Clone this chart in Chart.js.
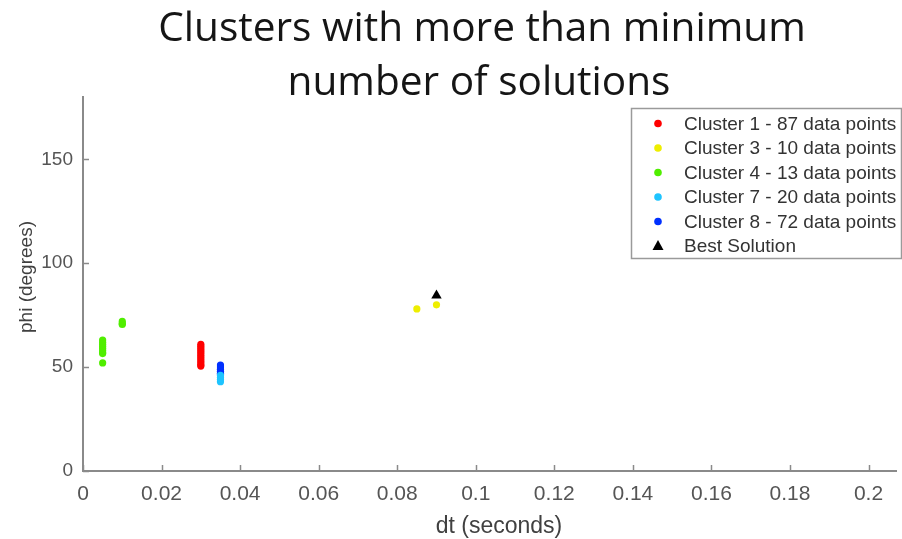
<!DOCTYPE html>
<html>
<head>
<meta charset="utf-8">
<script src="https://cdn.jsdelivr.net/npm/chart.js@4/dist/chart.umd.min.js"></script>
<style>
  html, body { margin: 0; padding: 0; background: #ffffff; }
  #wrap { width: 902px; height: 539px; position: relative; }
</style>
</head>
<body>
<div id="wrap"><canvas id="c" width="902" height="539"></canvas></div>
<script>
// ---- text ----
const titleLines = ['Clusters with more than minimum', 'number of solutions'];
const xAxisTitle = 'dt (seconds)';
const yAxisTitle = 'phi (degrees)';

// ---- ticks ----
const xTickValues = [0, 0.02, 0.04, 0.06, 0.08, 0.1, 0.12, 0.14, 0.16, 0.18, 0.2];
const xTickLabels = ['0', '0.02', '0.04', '0.06', '0.08', '0.1', '0.12', '0.14', '0.16', '0.18', '0.2'];
const yTickValues = [0, 50, 100, 150];
const yTickLabels = ['0', '50', '100', '150'];

// ---- series (dt in seconds, phi in degrees) ----
const seriesNames = [
  'Cluster 1 - 87 data points',
  'Cluster 3 - 10 data points',
  'Cluster 4 - 13 data points',
  'Cluster 7 - 20 data points',
  'Cluster 8 - 72 data points',
  'Best Solution'
];
const cluster1Dt  = [0.03, 0.03, 0.03, 0.03, 0.03, 0.03, 0.03, 0.03, 0.03, 0.03, 0.03, 0.03];
const cluster1Phi = [50.5, 51, 52, 53, 54, 55, 56, 57, 58, 59, 60, 61];
const cluster3Dt  = [0.085, 0.09];
const cluster3Phi = [78, 80];
const cluster4Dt  = [0.005, 0.005, 0.005, 0.005, 0.005, 0.005, 0.005, 0.005, 0.005, 0.01, 0.01, 0.01];
const cluster4Phi = [52, 56.5, 57, 58, 59, 60, 61, 62, 63, 70.5, 71, 72];
const cluster7Dt  = [0.035, 0.035, 0.035, 0.035];
const cluster7Phi = [43, 44, 45, 46];
const cluster8Dt  = [0.035, 0.035, 0.035, 0.035, 0.035, 0.035];
const cluster8Phi = [46.5, 47, 48, 49, 50, 51];
const bestDt  = [0.09];
const bestPhi = [84.5];

const seriesColors = ['#ff0000', '#eeee00', '#50ee00', '#1ec4ff', '#0030ff', '#000000'];

function points(xs, ys) { return xs.map((x, i) => ({ x: x, y: ys[i] })); }

const seriesData = [
  points(cluster1Dt, cluster1Phi),
  points(cluster3Dt, cluster3Phi),
  points(cluster4Dt, cluster4Phi),
  points(cluster7Dt, cluster7Phi),
  points(cluster8Dt, cluster8Phi),
  points(bestDt, bestPhi)
];

const datasets = seriesData.map((d, i) => {
  const isBest = i === seriesData.length - 1;
  return {
    label: seriesNames[i],
    data: d,
    pointStyle: isBest ? 'triangle' : 'circle',
    pointRadius: isBest ? 6 : 3.6,
    pointBorderWidth: 0,
    pointBackgroundColor: seriesColors[i],
    backgroundColor: seriesColors[i],
    borderColor: seriesColors[i],
    showLine: false
  };
});

const AXIS_GREY = '#8a8a8a';
const TICK_TEXT = '#555555';
const SANS = "'Liberation Sans', Arial, sans-serif";
const TITLE_FONT = "'Open Sans', Lato, sans-serif";

// Two-line heading plus the axis titles
const textPlugin = {
  id: 'chartText',
  afterDraw(chart) {
    const ctx = chart.ctx;
    ctx.save();
    ctx.fillStyle = '#151515';
    ctx.textAlign = 'center';
    ctx.textBaseline = 'alphabetic';
    ctx.font = '40px ' + TITLE_FONT;
    const w = ctx.measureText(titleLines[0]).width;
    const size = 40 * 648 / w;
    ctx.font = size.toFixed(1) + 'px ' + TITLE_FONT;
    ctx.fillText(titleLines[0], 482, 40.5);
    ctx.fillText(titleLines[1], 479, 95);

    ctx.fillStyle = '#404040';
    ctx.font = '23px ' + SANS;
    ctx.fillText(xAxisTitle, 499, 533);

    ctx.font = '19px ' + SANS;
    ctx.translate(27, 277);
    ctx.rotate(-Math.PI / 2);
    ctx.textBaseline = 'middle';
    ctx.fillText(yAxisTitle, 0, 0);
    ctx.restore();
  }
};

// Inward tick marks on both axes
const innerTicksPlugin = {
  id: 'innerTicks',
  afterDraw(chart) {
    const { ctx, chartArea } = chart;
    const xs = chart.scales.x, ys = chart.scales.y;
    ctx.save();
    ctx.strokeStyle = AXIS_GREY;
    ctx.lineWidth = 1.5;
    ctx.beginPath();
    xTickValues.forEach(v => {
      const px = Math.round(xs.getPixelForValue(v)) + 0.5;
      ctx.moveTo(px, chartArea.bottom);
      ctx.lineTo(px, chartArea.bottom - 6);
    });
    yTickValues.forEach(v => {
      const py = Math.round(ys.getPixelForValue(v)) + 0.5;
      ctx.moveTo(chartArea.left, py);
      ctx.lineTo(chartArea.left + 6, py);
    });
    ctx.stroke();
    ctx.restore();
  }
};

// Boxed legend in the upper right corner of the plot
const boxLegendPlugin = {
  id: 'boxLegend',
  afterDraw(chart) {
    const ctx = chart.ctx;
    const x0 = 631.5, y0 = 108.5, w = 270, h = 150;
    ctx.save();
    ctx.fillStyle = '#ffffff';
    ctx.fillRect(x0, y0, w, h);
    ctx.strokeStyle = '#9a9a9a';
    ctx.lineWidth = 1.5;
    ctx.strokeRect(x0, y0, w, h);
    ctx.font = '19px ' + SANS;
    ctx.textBaseline = 'middle';
    ctx.textAlign = 'left';
    chart.data.datasets.forEach((ds, i) => {
      const cy = 123.5 + i * 24.5;
      const cx = 658;
      ctx.fillStyle = ds.pointBackgroundColor;
      ctx.beginPath();
      if (ds.pointStyle === 'triangle') {
        ctx.moveTo(cx, cy - 6);
        ctx.lineTo(cx + 5.5, cy + 4);
        ctx.lineTo(cx - 5.5, cy + 4);
        ctx.closePath();
      } else {
        ctx.arc(cx, cy, 3.8, 0, Math.PI * 2);
      }
      ctx.fill();
      ctx.fillStyle = '#333333';
      ctx.fillText(ds.label, 684, cy + 1);
    });
    ctx.restore();
  }
};

new Chart(document.getElementById('c'), {
  type: 'scatter',
  data: { datasets: datasets },
  options: {
    responsive: false,
    animation: false,
    devicePixelRatio: 1,
    layout: { padding: { top: 97, right: 0, bottom: 0, left: 0 } },
    plugins: {
      legend: { display: false },
      title: { display: false },
      tooltip: { enabled: false }
    },
    scales: {
      x: {
        type: 'linear',
        min: 0,
        max: 0.207,
        afterBuildTicks(scale) { scale.ticks = xTickValues.map(v => ({ value: v })); },
        afterFit(scale) { scale.height = 68; },
        grid: { display: false, drawTicks: false },
        border: { display: true, color: AXIS_GREY, width: 2 },
        ticks: {
          autoSkip: false,
          maxRotation: 0,
          padding: 11,
          color: TICK_TEXT,
          font: { family: SANS, size: 21 },
          callback(value, index) { return xTickLabels[index]; }
        },
        title: { display: false, text: xAxisTitle }
      },
      y: {
        type: 'linear',
        min: 0,
        max: 180,
        afterBuildTicks(scale) { scale.ticks = yTickValues.map(v => ({ value: v })); },
        afterFit(scale) { scale.width = 83; },
        grid: { display: false, drawTicks: false },
        border: { display: true, color: AXIS_GREY, width: 2 },
        ticks: {
          autoSkip: false,
          padding: 10,
          color: TICK_TEXT,
          font: { family: SANS, size: 19 },
          callback(value, index) { return yTickLabels[index]; }
        },
        title: { display: false, text: yAxisTitle }
      }
    }
  },
  plugins: [innerTicksPlugin, boxLegendPlugin, textPlugin]
});
</script>
</body>
</html>
